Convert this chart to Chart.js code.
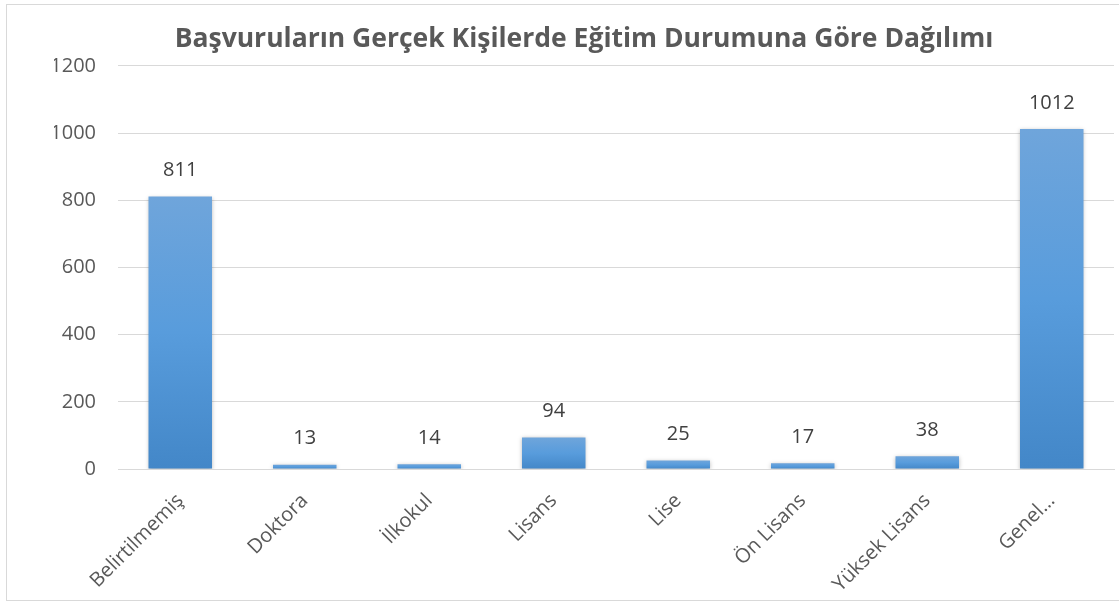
<!DOCTYPE html>
<html>
<head>
<meta charset="utf-8">
<script src="https://cdn.jsdelivr.net/npm/chart.js@4"></script>
<style>
    html, body { margin: 0; padding: 0; background: #fff; overflow: hidden; }
    #frame {
        position: absolute; left: 6px; top: 4px;
        width: 1130px; height: 595px;
        border: 1px solid #d9d9d9;
    }
    #wrap { position: absolute; left: 0; top: 0; width: 1119px; height: 603px; }
</style>
</head>
<body>
<div id="frame"></div>
<div id="wrap"><canvas id="eduChart" width="1119" height="603"></canvas></div>
<script>
// data
const categories = [
    'Belirtilmemiş', 'Doktora', 'İlkokul', 'Lisans',
    'Lise', 'Ön Lisans', 'Yüksek Lisans', 'Genel…'
];
const counts = [811, 13, 14, 94, 25, 17, 38, 1012];
const yTicks = [0, 200, 400, 600, 800, 1000, 1200];

const FONT = "'Open Sans', 'Noto Sans', sans-serif";

// per-bar gradient, light on top
function barFill(context) {
    const chart = context.chart;
    const yScale = chart.scales.y;
    if (!chart.chartArea || !yScale || context.dataIndex === undefined) return '#5b9bd5';
    const top = yScale.getPixelForValue(counts[context.dataIndex]);
    const bottom = yScale.getPixelForValue(0);
    const g = chart.ctx.createLinearGradient(0, top, 0, bottom + 0.01);
    g.addColorStop(0, '#6fa5db');
    g.addColorStop(0.5, '#589cdc');
    g.addColorStop(1, '#4387c8');
    return g;
}

// soft shadow around bars
const barShadow = {
    id: 'barShadow',
    beforeDatasetsDraw(chart) {
        const ctx = chart.ctx;
        ctx.save();
        ctx.shadowColor = 'rgba(0,0,0,0.28)';
        ctx.shadowBlur = 4;
        ctx.shadowOffsetX = 0;
        ctx.shadowOffsetY = 1;
    },
    afterDatasetsDraw(chart) {
        chart.ctx.restore();
    }
};

// value labels above bars
const valueLabels = {
    id: 'valueLabels',
    afterDatasetsDraw(chart) {
        const ctx = chart.ctx;
        const meta = chart.getDatasetMeta(0);
        ctx.save();
        ctx.font = '20px ' + FONT;
        ctx.fillStyle = '#404040';
        ctx.textAlign = 'center';
        ctx.textBaseline = 'middle';
        meta.data.forEach((bar, i) => {
            ctx.fillText(String(counts[i]), bar.x, bar.y - 26);
        });
        ctx.restore();
    }
};

const ctx = document.getElementById('eduChart').getContext('2d');

new Chart(ctx, {

    type: 'bar',

    data: {
        labels: categories,
        datasets: [
            {
                data: counts,
                backgroundColor: barFill,
                borderWidth: 0,
                categoryPercentage: 1,
                barPercentage: 0.51
            }
        ]
    },

    options: {

        responsive: false,
        animation: false,

        layout: {
            padding: { left: 54, right: 5, top: 0, bottom: 0 }
        },

        plugins: {
            legend: { display: false },
            tooltip: { enabled: false },
            title: {
                display: true,
                text: 'Başvuruların Gerçek Kişilerde Eğitim Durumuna Göre Dağılımı',
                color: '#595959',
                font: { family: FONT, size: 26.5, weight: 'bold' },
                padding: { top: 24, bottom: 10 }
            }
        },

        scales: {

            x: {
                grid: { display: false },
                border: { color: '#d9d9d9', width: 1 },
                ticks: {
                    color: '#595959',
                    font: { family: FONT, size: 20 },
                    minRotation: 45,
                    maxRotation: 45,
                    padding: 12,
                    autoSkip: false
                },
                afterFit(axis) { axis.height = 134; }
            },

            y: {
                min: 0,
                max: 1200,
                border: { display: false },
                grid: { color: '#d9d9d9', lineWidth: 1, drawTicks: false },
                afterBuildTicks(axis) {
                    axis.ticks = yTicks.map(v => ({ value: v }));
                },
                ticks: {
                    color: '#595959',
                    font: { family: FONT, size: 20 },
                    padding: 22,
                    callback: (value) => String(value)
                },
                afterFit(axis) { axis.width = 64; }
            }
        }
    },

    plugins: [barShadow, valueLabels]
});
</script>
</body>
</html>
